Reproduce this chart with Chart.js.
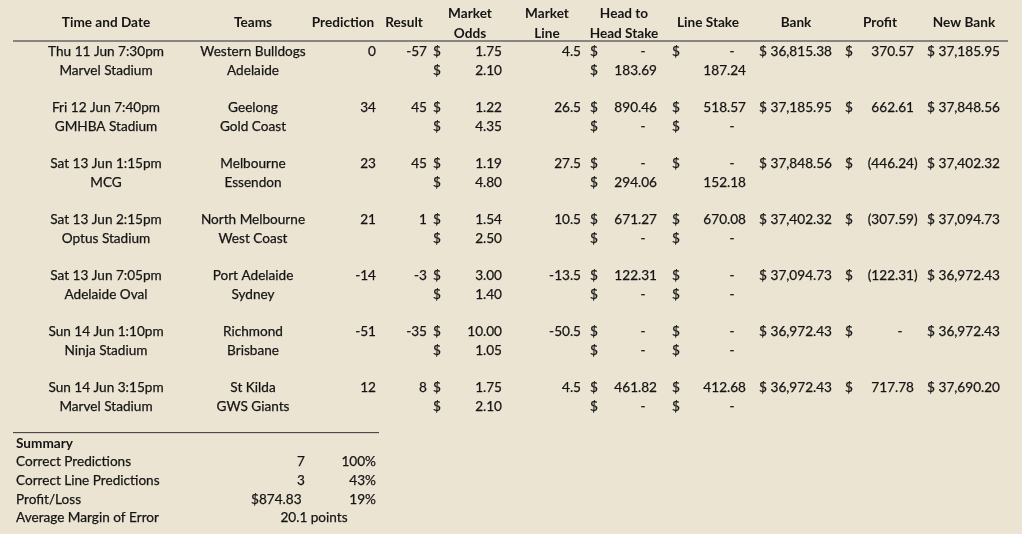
<!DOCTYPE html>
<html>
<head>
    <title>Round Results</title>
    <script src="https://cdn.jsdelivr.net/npm/chart.js"></script>
    <style>
        body { margin: 0; padding: 0; background: #ece4d2; }
        #wrap { width: 1022px; height: 534px; position: relative; }
    </style>
</head>
<body>
    <div id="wrap"><canvas id="sheet"></canvas></div>
    <script>
        // Match data
        const dates = ['Thu 11 Jun 7:30pm', 'Fri 12 Jun 7:40pm', 'Sat 13 Jun 1:15pm', 'Sat 13 Jun 2:15pm', 'Sat 13 Jun 7:05pm', 'Sun 14 Jun 1:10pm', 'Sun 14 Jun 3:15pm'];
        const venues = ['Marvel Stadium', 'GMHBA Stadium', 'MCG', 'Optus Stadium', 'Adelaide Oval', 'Ninja Stadium', 'Marvel Stadium'];
        const homeTeams = ['Western Bulldogs', 'Geelong', 'Melbourne', 'North Melbourne', 'Port Adelaide', 'Richmond', 'St Kilda'];
        const awayTeams = ['Adelaide', 'Gold Coast', 'Essendon', 'West Coast', 'Sydney', 'Brisbane', 'GWS Giants'];
        const predictions = [0, 34, 23, 21, -14, -51, 12];
        const results = [-57, 45, 45, 1, -3, -35, 8];
        const homeOdds = [1.75, 1.22, 1.19, 1.54, 3.00, 10.00, 1.75];
        const awayOdds = [2.10, 4.35, 4.80, 2.50, 1.40, 1.05, 2.10];
        const marketLines = [4.5, 26.5, 27.5, 10.5, -13.5, -50.5, 4.5];
        const homeH2H = [0, 890.46, 0, 671.27, 122.31, 0, 461.82];
        const awayH2H = [183.69, 0, 294.06, 0, 0, 0, 0];
        const homeLineStake = [0, 518.57, 0, 670.08, 0, 0, 412.68];
        const awayLineStake = [187.24, 0, 152.18, 0, 0, 0, 0];
        const banks = [36815.38, 37185.95, 37848.56, 37402.32, 37094.73, 36972.43, 36972.43];
        const profits = [370.57, 662.61, -446.24, -307.59, -122.31, 0, 717.78];
        const newBanks = [37185.95, 37848.56, 37402.32, 37094.73, 36972.43, 36972.43, 37690.20];

        // Summary
        const summaryLabels = ['Correct Predictions', 'Correct Line Predictions', 'Profit/Loss', 'Average Margin of Error'];
        const summaryCounts = ['7', '3', '$874.83 ', ''];
        const summaryPercents = ['100%', '43%', '19%', ''];
        const marginText = '20.1 points';

        // Header labels
        const headers = [['Time and Date'], ['Teams'], ['Prediction'], ['Result'], ['Market', 'Odds'], ['Market', 'Line'],
            ['Head to', 'Head Stake'], ['Line Stake'], ['Bank'], ['Profit'], ['New Bank']];

        // Layout (sheet x positions, row pitch)
        const headerCenters = [106, 253, 343, 404, 470, 547, 624, 708, 796, 880, 964];
        const C = { date: 106, team: 253, predR: 376, resR: 427, oddsD: 433, oddsR: 502, lineR: 581,
            h2hD: 590, h2hR: 657, lsD: 672, lsR: 746, bankD: 759, bankR: 832, profD: 845, profR: 914, nbD: 927, nbR: 1000,
            sumL: 16, sumCountR: 305, sumPctR: 376, sumMid: 314 };
        const FONT = 'Lato, "Open Sans", sans-serif';
        const FSIZE = 13.6;
        const INK = '#151515';

        const money = (v) => {
            const s = Math.abs(v).toLocaleString('en-US', { minimumFractionDigits: 2, maximumFractionDigits: 2 });
            return v < 0 ? '(' + s + ')' : s;
        };

        const sheetText = {
            id: 'sheetText',
            afterDatasetsDraw(chart) {
                const ctx = chart.ctx;
                const xs = chart.scales.x, ys = chart.scales.y;
                ctx.save();
                ctx.fillStyle = INK;
                ctx.strokeStyle = INK;
                ctx.lineWidth = 0.25;
                ctx.textBaseline = 'middle';
                const put = (txt, x, row, align, bold) => {
                    ctx.font = (bold ? 'bold ' : '') + FSIZE + 'px ' + FONT;
                    ctx.textAlign = align;
                    const px = xs.getPixelForValue(x), py = ys.getPixelForValue(row);
                    ctx.fillText(txt, px, py);
                    if (!bold) ctx.strokeText(txt, px, py);
                };
                // accounting cell: $ on the left, number right aligned, dash for zero
                const acct = (v, d, r, row, dollar = true) => {
                    if (dollar) put('$', d, row, 'left');
                    if (v === 0) { put('-', r - 14, row, 'center'); return; }
                    ctx.font = FSIZE + 'px ' + FONT;
                    const pad = v < 0 ? ctx.measureText(')').width : 0;
                    put(money(v), r + pad, row, 'right');
                };

                headers.forEach((h, i) => {
                    if (h.length === 1) put(h[0], headerCenters[i], -1.54, 'center', true);
                    else { put(h[0], headerCenters[i], -2.03, 'center', true); put(h[1], headerCenters[i], -1.0, 'center', true); }
                });

                dates.forEach((d, i) => {
                    const r1 = i * 3, r2 = i * 3 + 1;
                    put(d, C.date, r1, 'center');
                    put(venues[i], C.date, r2, 'center');
                    put(homeTeams[i], C.team, r1, 'center');
                    put(awayTeams[i], C.team, r2, 'center');
                    put(String(predictions[i]), C.predR, r1, 'right');
                    put(String(results[i]), C.resR, r1, 'right');
                    put('$', C.oddsD, r1, 'left');
                    put(homeOdds[i].toFixed(2), C.oddsR, r1, 'right');
                    put('$', C.oddsD, r2, 'left');
                    put(awayOdds[i].toFixed(2), C.oddsR, r2, 'right');
                    put(String(marketLines[i]), C.lineR, r1, 'right');
                    acct(homeH2H[i], C.h2hD, C.h2hR, r1);
                    acct(awayH2H[i], C.h2hD, C.h2hR, r2);
                    acct(homeLineStake[i], C.lsD, C.lsR, r1);
                    if (awayLineStake[i] === 0) acct(0, C.lsD, C.lsR, r2);
                    else acct(awayLineStake[i], C.lsD, C.lsR, r2, false);
                    acct(banks[i], C.bankD, C.bankR, r1);
                    acct(profits[i], C.profD, C.profR, r1);
                    acct(newBanks[i], C.nbD, C.nbR, r1);
                });

                put('Summary', C.sumL, 21, 'left', true);
                summaryLabels.forEach((l, i) => {
                    const row = 22 + i;
                    put(l, C.sumL, row, 'left');
                    if (summaryCounts[i]) put(summaryCounts[i], C.sumCountR, row, 'right');
                    if (summaryPercents[i]) put(summaryPercents[i], C.sumPctR, row, 'right');
                });
                put(marginText, C.sumMid, 25, 'center');
                ctx.restore();
            }
        };

        const rule = (x0, x1, row, color, width) => ({
            type: 'line',
            data: [{ x: x0, y: row }, { x: x1, y: row }],
            borderColor: color,
            borderWidth: width,
            pointRadius: 0,
            showLine: true
        });

        new Chart(document.getElementById('sheet'), {
            type: 'scatter',
            data: {
                datasets: [
                    rule(13, 1008, -0.58, '#666', 1.5),
                    rule(13, 379, 20.42, '#333', 1)
                ]
            },
            options: {
                responsive: true,
                maintainAspectRatio: false,
                animation: false,
                layout: { padding: 0 },
                plugins: { legend: { display: false }, tooltip: { enabled: false } },
                scales: {
                    x: { type: 'linear', display: false, min: 0, max: 1022 },
                    y: { type: 'linear', display: false, reverse: true, min: -51.8 / 18.65, max: (534 - 51.8) / 18.65 }
                }
            },
            plugins: [sheetText]
        });
    </script>
</body>
</html>
